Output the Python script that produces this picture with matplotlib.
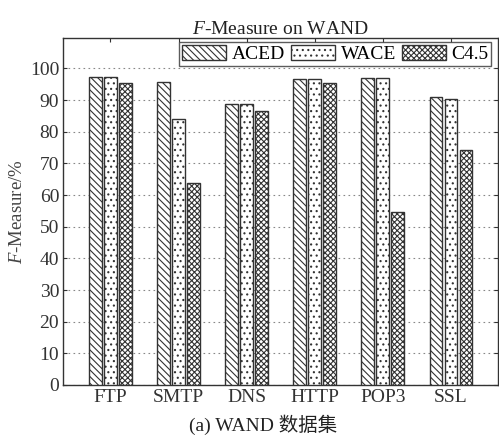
import numpy as np
import matplotlib
matplotlib.use("Agg")
import matplotlib.pyplot as plt

plt.rcParams['font.family'] = ['Liberation Serif', 'Noto Sans CJK SC']
plt.rcParams['mathtext.fontset'] = 'custom'
plt.rcParams['mathtext.rm'] = 'Liberation Serif'
plt.rcParams['mathtext.it'] = 'Liberation Serif:italic'
plt.rcParams['hatch.linewidth'] = 0.8

# F-Measure (%) per protocol on WAND
protocols = ['FTP', 'SMTP', 'DNS', 'HTTP', 'POP3', 'SSL']
aced = [97.3, 95.6, 88.9, 96.8, 97.1, 91.0]
wace = [97.3, 83.9, 88.9, 96.8, 97.1, 90.5]
c45 = [95.3, 63.9, 86.6, 95.4, 54.5, 74.1]

series = [('ACED', aced, '\\\\\\\\\\'), ('WACE', wace, '...'), ('C4.5', c45, 'xxxxxx')]

fig = plt.figure(figsize=(4.99, 4.41), dpi=100)
ax = fig.add_axes([0.127, 0.127, 0.871, 0.786])

x = np.arange(len(protocols))
width = 0.19
step = 0.22
for i, (name, vals, hatch) in enumerate(series):
    ax.bar(x + (i - 1) * step, vals, width, label=name, color='white',
           edgecolor='#333333', linewidth=1.0, hatch=hatch, zorder=3)

ax.set_xlim(-0.69, 5.69)
ax.set_ylim(0, 109.5)
ax.set_yticks(range(0, 101, 10))
ax.set_xticks(x)
ax.set_xticklabels(protocols)
ax.tick_params(direction='in', top=True, right=True, labelsize=14,
               length=3, colors='#333333', pad=3)
ax.grid(axis='y', linestyle=(0, (1.5, 3)), color='#888888', linewidth=0.8, zorder=0)
for s in ax.spines.values():
    s.set_color('#333333')
    s.set_linewidth(1.0)

ax.set_title(r'$F$-Measure on WAND', fontsize=14, pad=3, color='#222222')
ax.set_ylabel(r'$F$-Measure/%', fontsize=13.5, color='#444444', labelpad=3)

leg = ax.legend(loc='upper right', bbox_to_anchor=(0.985, 0.99), ncol=3,
                fontsize=14, frameon=True, fancybox=False, borderaxespad=0,
                handlelength=2.25, handleheight=0.8, handletextpad=0.3,
                columnspacing=0.3, borderpad=0.15)
leg.get_frame().set_edgecolor('#333333')
leg.get_frame().set_linewidth(1.0)

fig.text(0.527, 0.036, '(a) WAND 数据集', ha='center', va='center',
         fontsize=14, color='#222222')

fig.savefig('out.png', dpi=100)
